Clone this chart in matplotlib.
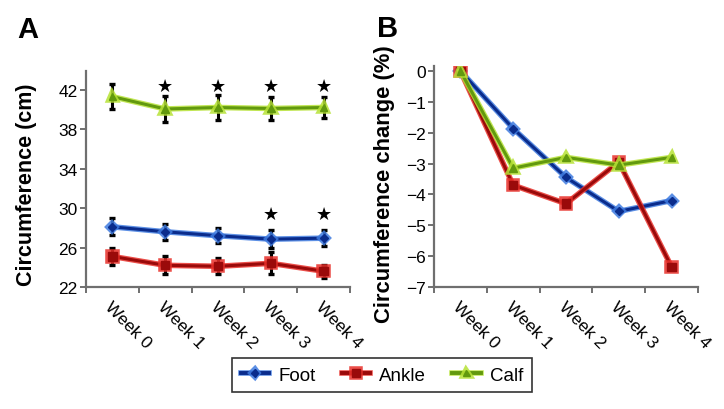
import matplotlib
matplotlib.use("Agg")
import matplotlib.pyplot as plt
import matplotlib.patheffects as pe
from matplotlib.lines import Line2D
import numpy as np

plt.rcParams['font.family'] = ['Liberation Sans', 'DejaVu Sans']

weeks = ["Week 0", "Week 1", "Week 2", "Week 3", "Week 4"]

# Panel A: circumference (cm)
foot_cm = [28.1, 27.6, 27.2, 26.85, 26.95]
foot_err = [0.85, 0.8, 0.75, 0.9, 0.8]
ankle_cm = [25.1, 24.2, 24.1, 24.4, 23.6]
ankle_err = [0.9, 0.9, 0.8, 1.1, 0.65]
calf_cm = [41.3, 40.05, 40.2, 40.1, 40.2]
calf_err = [1.3, 1.3, 1.3, 1.2, 1.1]
star_calf = [False, True, True, True, True]
star_foot = [False, False, False, True, True]

# Panel B: circumference change (%)
foot_pct = [0, -1.87, -3.45, -4.55, -4.2]
ankle_pct = [0, -3.7, -4.3, -2.95, -6.35]
calf_pct = [0, -3.15, -2.8, -3.05, -2.8]

series = [
    ("Foot", "#0a2c8c", "#3f7be0", "D", 4.0),
    ("Ankle", "#9a0a0a", "#e8302a", "s", 6.0),
    ("Calf", "#62990e", "#b6e236", "^", 5.5),
]

fig = plt.figure(figsize=(7.24, 4.10), dpi=100)
axA = fig.add_axes([86/724, 1-288/410, (350-86)/724, (288-72)/410])
axB = fig.add_axes([434/724, 1-288/410, (698-434)/724, (288-67)/410])

x = np.arange(len(weeks))

def glow(light, w):
    return [pe.Stroke(linewidth=w, foreground=light, alpha=0.85), pe.Normal()]

def style(ax):
    for s in ["top", "right"]:
        ax.spines[s].set_visible(False)
    for s in ["left", "bottom"]:
        ax.spines[s].set_color("#6f6f6f")
        ax.spines[s].set_linewidth(1.6)
    ax.set_xlim(-0.5, len(weeks) - 0.5)
    ax.set_xticks(np.arange(len(weeks) + 1) - 0.5)
    ax.set_xticklabels([])
    ax.set_xticks(x, minor=True)
    ax.set_xticklabels(weeks, minor=True, rotation=-45, rotation_mode="anchor",
                       ha="left", va="top", fontsize=12.5)
    ax.tick_params(axis="x", which="minor", length=0, pad=8)
    ax.tick_params(axis="x", which="major", length=4, width=1.4, color="#6f6f6f", direction="out")
    ax.tick_params(axis="y", length=4, width=1.4, color="#6f6f6f", direction="out", labelsize=12.5, pad=2)

# Panel A
vals_A = [(foot_cm, foot_err), (ankle_cm, ankle_err), (calf_cm, calf_err)]
for (name, dark, light, m, ms), (v, e) in zip(series, vals_A):
    axA.errorbar(x, v, yerr=e, fmt="none", ecolor="black", elinewidth=2.2,
                 capsize=2.5, capthick=2.4, zorder=3)
    axA.plot(x, v, color=dark, lw=2.2, marker=m, ms=ms, mfc=dark, mec=dark,
             path_effects=glow(light, 4.0), zorder=4)
for i in range(len(weeks)):
    if star_calf[i]:
        axA.text(x[i], 42.4, "★", ha="center", va="center",
                 fontsize=13, family="DejaVu Sans")
    if star_foot[i]:
        axA.text(x[i], 29.4, "★", ha="center", va="center",
                 fontsize=13, family="DejaVu Sans")
axA.set_ylim(22, 43.9)
axA.set_yticks([22, 26, 30, 34, 38, 42])
style(axA)
axA.set_ylabel("Circumference (cm)", fontsize=15.5, fontweight="bold")
axA.yaxis.set_label_coords(-0.186, 0.477)

# Panel B
vals_B = [foot_pct, ankle_pct, calf_pct]
handles = []
for (name, dark, light, m, ms), v in zip(series, vals_B):
    axB.plot(x, v, color=dark, lw=2.2, marker=m, ms=ms, mfc=dark, mec=dark,
             path_effects=glow(light, 4.0), zorder=4)
    handles.append(Line2D([], [], color=dark, lw=2.8, marker=m, ms=ms * 0.9, mfc=dark, mec=dark,
                          path_effects=glow(light, 4.0), label=name))
axB.set_ylim(-7, 0.16)
axB.set_yticks(range(-7, 1))
style(axB)
axB.set_ylabel("Circumference change (%)", fontsize=15.8, fontweight="bold")
axB.yaxis.set_label_coords(-0.148, 0.47)

fig.text(17/724, 1-30/410, "A", fontsize=21, fontweight="bold", va="center", ha="left")
fig.text(377/724, 1-29/410, "B", fontsize=21, fontweight="bold", va="center", ha="left")

leg = fig.legend(handles=handles, loc="center", bbox_to_anchor=(382/724, 1-376/410),
                 ncol=3, frameon=True, fancybox=False, edgecolor="black", fontsize=13.5,
                 handlelength=1.5, columnspacing=1.4, handletextpad=0.5,
                 borderpad=0.45, borderaxespad=0)
leg.get_frame().set_linewidth(1.2)

fig.savefig("out.png", dpi=100)
